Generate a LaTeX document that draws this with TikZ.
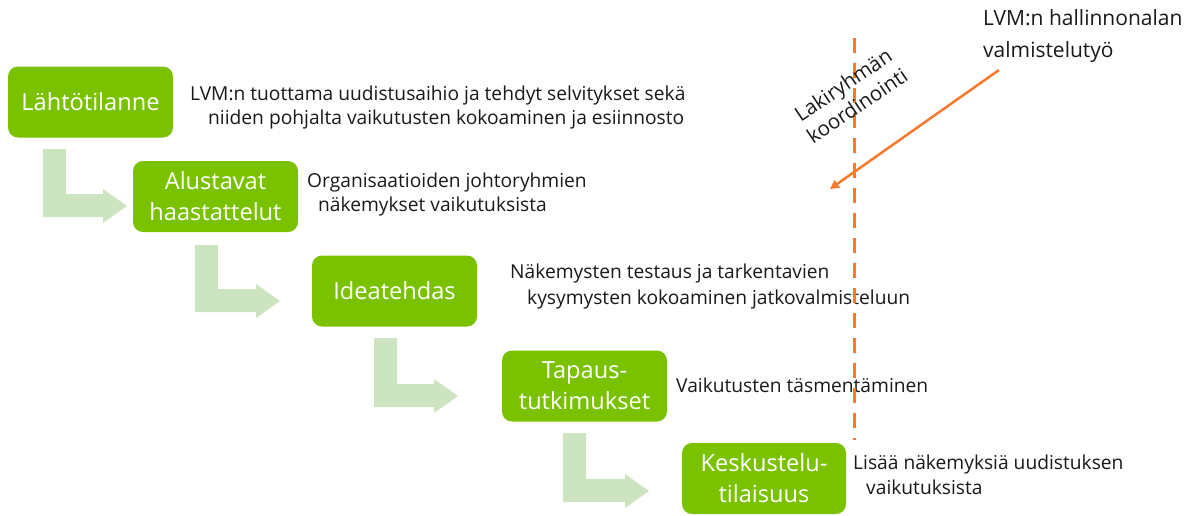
\documentclass[tikz,border=0pt]{standalone}
\usepackage{fontspec}
\setmainfont{Open Sans}
\usetikzlibrary{arrows.meta}
\definecolor{boxgreen}{RGB}{122,194,0}
\definecolor{palegreen}{RGB}{205,228,192}
\definecolor{lineorange}{RGB}{247,121,44}
\definecolor{textgray}{RGB}{25,25,25}
\newcommand\bentarr[4]{% left, top, bottom, tip x
  \fill[palegreen] (#1,#2) -- ({#1+23},#2) -- ({#1+23},{#3-23}) -- ({#4-24},{#3-23})
    -- ({#4-24},{#3-28}) -- (#4,{#3-11}) -- ({#4-24},{#3+6}) -- ({#4-24},#3)
    -- (#1,#3) -- cycle;}
\begin{document}
\begin{tikzpicture}[x=1pt,y=-1pt,
  stepbox/.style={fill=boxgreen, rounded corners=10pt, minimum width=165pt,
    minimum height=71pt, text=white, align=center, inner sep=0pt,
    font=\fontsize{23.6}{31}\selectfont},
  desc/.style={text=textgray, align=left, inner sep=0pt, anchor=north west,
    font=\fontsize{19.2}{25}\selectfont},
  orangeline/.style={draw=lineorange, line width=3pt}]
\useasboundingbox (0,0) rectangle (1198,515);
% boxes
\node[stepbox] (b1) at (90.5,102) {Lähtötilanne};
\node[stepbox] (b2) at (215.5,196.5) {Alustavat\\haastattelut};
\node[stepbox] (b3) at (394.5,291) {Ideatehdas};
\node[stepbox] (b4) at (584.5,386) {Tapaus-\\tutkimukset};
\node[stepbox, minimum width=164pt] (b5) at (764,478.5) {Keskustelu-\\tilaisuus};
% bent block arrows
\bentarr{43}{149}{217}{127}
\bentarr{195}{245}{312}{280}
\bentarr{374}{338}{407}{458}
\bentarr{563}{433}{502}{649}
% descriptions
\node[desc] (d1) at (190,86) {LVM:n tuottama uudistusaihio ja tehdyt selvitykset sekä\\[-1pt]\hspace*{18pt}niiden pohjalta vaikutusten kokoaminen ja esiinnosto};
\node[desc] (d2) at (307,173) {Organisaatioiden johtoryhmien\\[-1pt]\hspace*{11pt}näkemykset vaikutuksista};
\node[desc] (d3) at (510,264) {Näkemysten testaus ja tarkentavien\\[1pt]\hspace*{17pt}kysymysten kokoaminen jatkovalmisteluun};
\node[desc] (d4) at (676,377.5) {Vaikutusten täsmentäminen};
\node[desc] (d5) at (853,454.5) {Lisää näkemyksiä uudistuksen\\[0pt]\hspace*{13pt}vaikutuksista};
% top right label
\node[text=textgray, align=left, inner sep=0pt, anchor=north west,
  font=\fontsize{21}{32}\selectfont] (lvm) at (983,9) {LVM:n hallinnonalan\\valmistelutyö};
% dashed coordination line
\coordinate (dtop) at (854,38);
\coordinate (dbot) at (854,440);
\draw[orangeline, dash pattern=on 15pt off 10pt] (dtop) -- (dbot);
% rotated label
\node[text=textgray, align=center, inner sep=0pt, rotate=34,
  font=\fontsize{20.5}{25}\selectfont] (laki) at (850,95) {Lakiryhmän\\koordinointi};
% orange arrow
\coordinate (oa) at (999,70);
\coordinate (ob) at (830,189);
\draw[draw=lineorange, line width=2.5pt, -{Triangle[length=9pt,width=9pt]}] (oa) -- (ob);
\end{tikzpicture}
\end{document}
